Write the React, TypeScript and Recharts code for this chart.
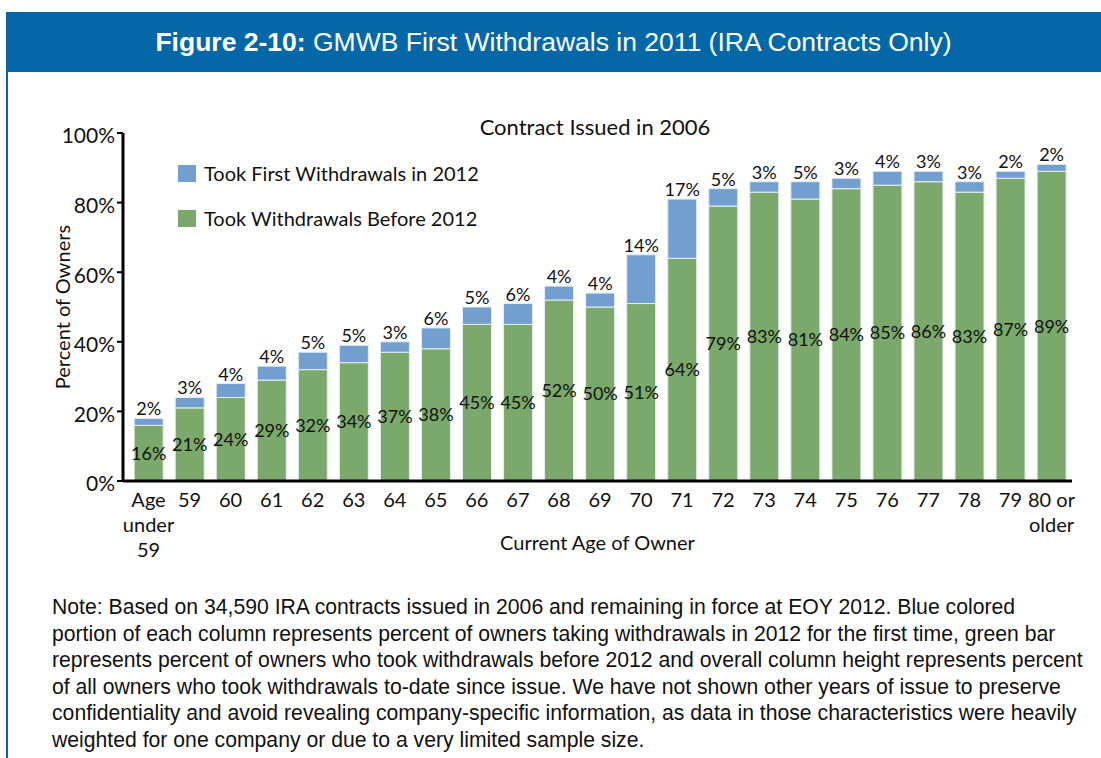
import { BarChart, Bar, XAxis, YAxis, LabelList } from 'recharts';

// GMWB first withdrawals, contracts issued 2006 (values in %)
const AGES = ['Age\nunder\n59', '59', '60', '61', '62', '63', '64', '65', '66', '67', '68', '69', '70',
  '71', '72', '73', '74', '75', '76', '77', '78', '79', '80 or\nolder'];
const BEFORE_2012 = [16, 21, 24, 29, 32, 34, 37, 38, 45, 45, 52, 50, 51, 64, 79, 83, 81, 84, 85, 86, 83, 87, 89];
const FIRST_2012 = [2, 3, 4, 4, 5, 5, 3, 6, 5, 6, 4, 4, 14, 17, 5, 3, 5, 3, 4, 3, 3, 2, 2];
const Y_TICKS = [0, 20, 40, 60, 80, 100];

const NOTE_LINES = [
  'Note: Based on 34,590 IRA contracts issued in 2006 and remaining in force at EOY 2012. Blue colored',
  'portion of each column represents percent of owners taking withdrawals in 2012 for the first time, green bar',
  'represents percent of owners who took withdrawals before 2012 and overall column height represents percent',
  'of all owners who took withdrawals to-date since issue. We have not shown other years of issue to preserve',
  'confidentiality and avoid revealing company-specific information, as data in those characteristics were heavily',
  'weighted for one company or due to a very limited sample size.',
];

const rows = AGES.map((age, i) => ({ age, before: BEFORE_2012[i], first: FIRST_2012[i] }));

const BLUE_HEAD = '#0468a8';
const GREEN = '#7ba96b';
const BLUE = '#729fcf';
const CHART_FONT = 'Lato, "Liberation Sans", sans-serif';
const SANS = '"Liberation Sans", Arial, sans-serif';

function AgeTick(props: any) {
  const { x, y, payload } = props;
  const lines = String(payload.value).split('\n');
  return (
    <text x={x} y={y} textAnchor="middle" fontFamily={CHART_FONT} fontSize={20} fill="#111">
      {lines.map((l, i) => (
        <tspan key={i} x={x} dy={i === 0 ? 18 : 25}>{l}</tspan>
      ))}
    </text>
  );
}

const pct = (v: any) => `${v}%`;

export default function App() {
  return (
    <div style={{ position: 'absolute', left: 0, top: 0, width: 1101, height: 758, background: '#fff', overflow: 'hidden' }}>
      <div style={{
        position: 'absolute', left: 6, top: 12, width: 1095, height: 60, background: BLUE_HEAD,
        color: '#fff', fontFamily: SANS, fontSize: 26.5, lineHeight: '60px', textAlign: 'center', whiteSpace: 'nowrap',
      }}>
        <b>Figure 2-10:</b> GMWB First Withdrawals in 2011 (IRA Contracts Only)
      </div>
      <div style={{ position: 'absolute', left: 6, top: 72, width: 1.5, height: 686, background: BLUE_HEAD }} />

      <div style={{ position: 'absolute', left: 0, top: 0 }}>
        <BarChart width={1101} height={758} data={rows} barCategoryGap="15%"
                  margin={{ top: 133, right: 29, left: 53, bottom: 197 }}>
          <XAxis dataKey="age" interval={0} tick={<AgeTick />} tickLine={false}
                 axisLine={{ stroke: '#000', strokeWidth: 3 }} height={80} padding={{ left: 5, right: 0 }}
                 label={{ value: 'Current Age of Owner', position: 'insideBottom', offset: 11,
                   style: { fontFamily: CHART_FONT, fontSize: 20, fill: '#111' } }} />
          <YAxis domain={[0, 100]} ticks={Y_TICKS} tickFormatter={pct} width={70} tickSize={6}
                 tickLine={{ stroke: '#000', strokeWidth: 2 }} axisLine={{ stroke: '#000', strokeWidth: 3 }}
                 tick={{ fontFamily: CHART_FONT, fontSize: 21, fill: '#111', dy: 3 }}
                 label={{ value: 'Percent of Owners', angle: -90, position: 'insideLeft', offset: 10,
                   style: { fontFamily: CHART_FONT, fontSize: 20, fill: '#111', textAnchor: 'middle' } }} />
          <Bar dataKey="before" stackId="a" fill={GREEN} stroke="#e6eef4" strokeWidth={1} isAnimationActive={false}>
            <LabelList dataKey="before" position="center" formatter={pct}
                       style={{ fontFamily: CHART_FONT, fontSize: 18, fill: '#111' }} />
          </Bar>
          <Bar dataKey="first" stackId="a" fill={BLUE} stroke="#e6eef4" strokeWidth={1} isAnimationActive={false}>
            <LabelList dataKey="first" position="top" offset={3} formatter={pct}
                       style={{ fontFamily: CHART_FONT, fontSize: 18, fill: '#111' }} />
          </Bar>
        </BarChart>
      </div>

      <div style={{ position: 'absolute', left: 0, width: 1190, top: 113, textAlign: 'center', fontFamily: CHART_FONT, fontSize: 22, color: '#111' }}>
        Contract Issued in 2006
      </div>

      {[['Took First Withdrawals in 2012', BLUE, 162], ['Took Withdrawals Before 2012', GREEN, 207]].map(([t, c, top]) => (
        <div key={t as string} style={{ position: 'absolute', left: 178, top: top as number, height: 22, display: 'flex', alignItems: 'center', fontFamily: CHART_FONT, fontSize: 20, color: '#111', whiteSpace: 'nowrap' }}>
          <span style={{ display: 'inline-block', width: 18, height: 17, background: c as string, marginRight: 8 }} />
          {t}
        </div>
      ))}

      <div style={{ position: 'absolute', left: 52, top: 594, fontFamily: SANS, fontSize: 21.2, lineHeight: '26.5px', color: '#111', whiteSpace: 'nowrap' }}>
        {NOTE_LINES.map((l, i) => <div key={i}>{l}</div>)}
      </div>
    </div>
  );
}
